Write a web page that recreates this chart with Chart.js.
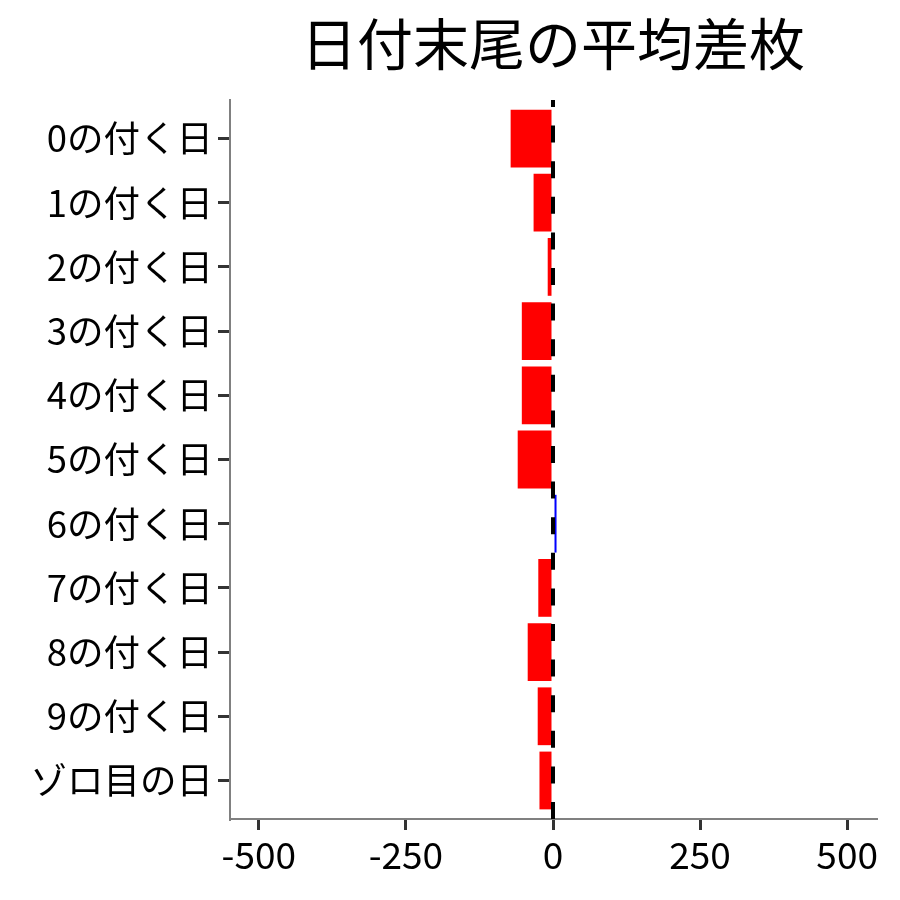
<!DOCTYPE html>
<html>
<head>
<meta charset="utf-8">
<script src="https://cdn.jsdelivr.net/npm/chart.js@4"></script>
<style>
  body { margin: 0; background: #fff; }
</style>
</head>
<body>
<canvas id="chart" width="900" height="900"></canvas>
<script>
const labels = ['0の付く日', '1の付く日', '2の付く日', '3の付く日', '4の付く日', '5の付く日',
                '6の付く日', '7の付く日', '8の付く日', '9の付く日', 'ゾロ目の日'];
const values = [-72, -33, -9, -53, -53, -60, 6, -25, -43, -26, -23];
const xTicks = [-500, -250, 0, 250, 500];
const title = '日付末尾の平均差枚';

const FONT = '"Noto Sans CJK JP", "Noto Sans", sans-serif';

// タイトルと0の破線を描く
const extras = {
    id: 'extras',
    afterDatasetsDraw(chart) {
        const ctx = chart.ctx;
        const area = chart.chartArea;
        const x0 = chart.scales.x.getPixelForValue(0);
        ctx.save();
        ctx.strokeStyle = '#000';
        ctx.lineWidth = 4;
        ctx.setLineDash([17, 18.6]);
        ctx.beginPath();
        ctx.moveTo(x0, area.bottom);
        ctx.lineTo(x0, area.top);
        ctx.stroke();
        ctx.restore();
    },
    afterDraw(chart) {
        const ctx = chart.ctx;
        const area = chart.chartArea;
        ctx.save();
        ctx.fillStyle = '#000';
        ctx.font = '56px ' + FONT;
        ctx.textAlign = 'center';
        ctx.textBaseline = 'middle';
        ctx.fillText(title, (area.left + area.right) / 2, 44);
        ctx.restore();
    }
};

new Chart(document.getElementById('chart'), {
    type: 'bar',
    data: {
        datasets: [{
            data: values.map((v, i) => ({ x: v, y: i })),
            backgroundColor: values.map(v => v < 0 ? '#FF0000' : '#0000FF'),
            borderWidth: 0,
            barPercentage: 0.9,
            categoryPercentage: 1.0
        }]
    },
    options: {
        indexAxis: 'y',
        responsive: false,
        animation: false,
        layout: { padding: { top: 100, right: 24, left: 0, bottom: 0 } },
        plugins: {
            legend: { display: false },
            tooltip: { enabled: false }
        },
        scales: {
            x: {
                type: 'linear',
                min: -549,
                max: 549,
                afterBuildTicks: (scale) => { scale.ticks = xTicks.map(v => ({ value: v })); },
                afterFit: (scale) => { scale.height = 81; },
                border: { display: true, color: '#808080', width: 2 },
                grid: { display: true, drawOnChartArea: false, drawTicks: true, tickLength: 11, color: '#333333', lineWidth: 3 },
                ticks: { color: '#000', padding: 3, font: { family: FONT, size: 37 }, maxRotation: 0 }
            },
            y: {
                type: 'linear',
                reverse: true,
                offset: false,
                min: -0.6,
                max: 10.6,
                afterBuildTicks: (scale) => { scale.ticks = labels.map((l, i) => ({ value: i })); },
                afterFit: (scale) => { scale.width = 230; },
                border: { display: true, color: '#808080', width: 2 },
                grid: { display: true, offset: false, drawOnChartArea: false, drawTicks: true, tickLength: 12, color: '#333333', lineWidth: 3 },
                ticks: {
                    color: '#000',
                    padding: 5,
                    font: { family: FONT, size: 36.5 },
                    callback: (v) => labels[v]
                }
            }
        }
    },
    plugins: [extras]
});
</script>
</body>
</html>
